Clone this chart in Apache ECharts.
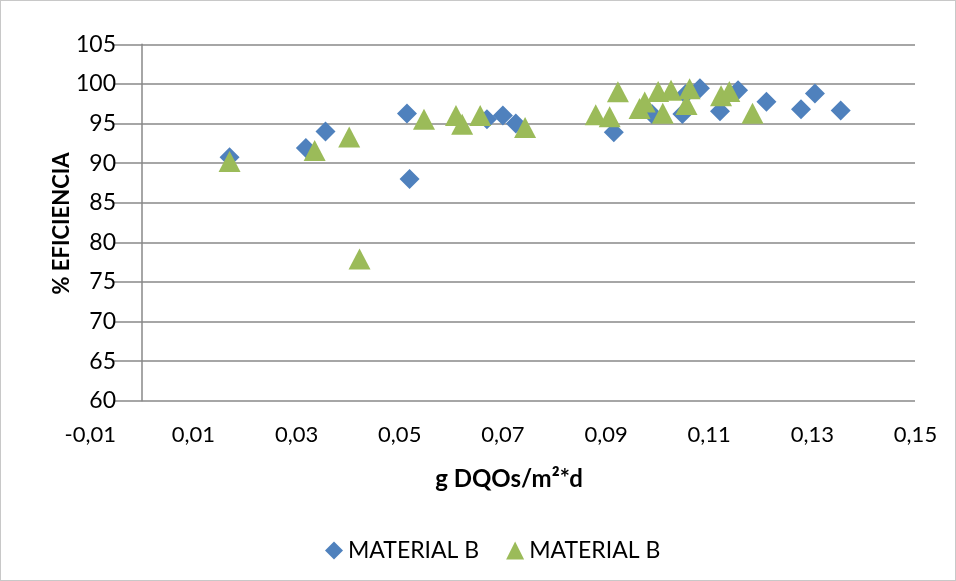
<!DOCTYPE html>
<html>
<head>
<meta charset="utf-8">
<script src="https://cdn.jsdelivr.net/npm/echarts@6/dist/echarts.min.js"></script>
<style>
  html, body { margin: 0; padding: 0; background: #fff; }
  #chart { width: 956px; height: 581px; box-sizing: border-box; border: 1px solid #c8c8c8; }
</style>
</head>
<body>
<div id="chart"></div>
<script>
// Series 1 (blue diamonds) – MATERIAL B
const xBlue = [0.0170, 0.0318, 0.0356, 0.0514, 0.0519, 0.0669, 0.0700, 0.0725, 0.0915, 0.0989,
               0.1048, 0.1054, 0.1082, 0.1121, 0.1156, 0.1211, 0.1278, 0.1305, 0.1355];
const yBlue = [90.75, 91.9, 94.0, 96.25, 88.0, 95.55, 96.0, 95.0, 93.9, 96.2,
               96.2, 98.7, 99.45, 96.55, 99.2, 97.75, 96.8, 98.8, 96.65];
// Series 2 (green triangles) – MATERIAL B
const xGreen = [0.0170, 0.0335, 0.0402, 0.0422, 0.0547, 0.0609, 0.0621, 0.0656, 0.0743, 0.0880,
                0.0907, 0.0923, 0.0965, 0.0975, 0.1001, 0.1010, 0.1026, 0.1062, 0.1056, 0.1123,
                0.1139, 0.1184];
const yGreen = [90.2, 91.6, 93.3, 77.9, 95.55, 96.0, 94.9, 96.0, 94.5, 96.1,
                95.85, 99.0, 96.9, 97.7, 99.05, 96.3, 99.2, 99.4, 97.4, 98.5,
                99.05, 96.3];
const seriesNames = ['MATERIAL B', 'MATERIAL B '];
const xTitle = 'g DQOs/m²*d';
const yTitle = '% EFICIENCIA';

const FONT = 'Lato, "Noto Sans", sans-serif';
const GRID_COLOR = '#888888';

function pairs(xs, ys) { return xs.map((x, i) => [x, ys[i]]); }

const chart = echarts.init(document.getElementById('chart'), null, { renderer: 'canvas' });
chart.setOption({
  animation: false,
  textStyle: { fontFamily: FONT },
  grid: [
    { left: 89.3, right: 39.5, top: 43.3, bottom: 179.3 },
    { left: 113, right: 40, top: 43.3, bottom: 179.3 }
  ],
  xAxis: [
    {
      type: 'value', gridIndex: 0, min: -0.01, max: 0.15, interval: 0.02,
      axisLine: { show: false }, axisTick: { show: false }, splitLine: { show: false },
      axisLabel: {
        color: '#000', fontSize: 22, fontFamily: FONT, margin: 23, lineHeight: 22,
        formatter: v => v.toFixed(2).replace('.', ',')
      }
    },
    { type: 'value', gridIndex: 1, min: 0, max: 1, show: false }
  ],
  yAxis: [
    {
      type: 'value', gridIndex: 0, min: 60, max: 105, interval: 5,
      axisLine: { show: true, onZero: true, lineStyle: { color: GRID_COLOR, width: 1.5 } },
      axisTick: { show: false }, axisLabel: { show: false }, splitLine: { show: false }
    },
    {
      type: 'value', gridIndex: 1, min: 60, max: 105, interval: 5,
      axisLine: { show: false }, axisTick: { show: false },
      splitLine: { show: true, lineStyle: { color: GRID_COLOR, width: 1.5 } },
      axisLabel: { color: '#000', fontSize: 23, fontFamily: FONT, margin: -2 }
    }
  ],
  legend: {
    left: 319, top: 533, itemGap: 27, itemWidth: 18, itemHeight: 18,
    textStyle: { color: '#000', fontSize: 23, fontFamily: FONT },
    formatter: n => n.trim(),
    data: [
      { name: seriesNames[0], icon: 'diamond' },
      { name: seriesNames[1], icon: 'triangle' }
    ]
  },
  graphic: [
    {
      type: 'text', x: 61, y: 222.5, rotation: Math.PI / 2,
      style: { text: yTitle, font: 'bold 22px ' + FONT, fill: '#000', align: 'center', verticalAlign: 'middle' }
    },
    {
      type: 'text', x: 508, y: 478,
      style: { text: xTitle, font: 'bold 24px ' + FONT, fill: '#000', align: 'center', verticalAlign: 'middle' }
    }
  ],
  series: [
    {
      name: seriesNames[0], type: 'scatter', xAxisIndex: 0, yAxisIndex: 0,
      symbol: 'diamond', symbolSize: [20, 20],
      itemStyle: { color: '#4F81BD', opacity: 1 },
      data: pairs(xBlue, yBlue)
    },
    {
      name: seriesNames[1], type: 'scatter', xAxisIndex: 0, yAxisIndex: 0,
      symbol: 'triangle', symbolSize: [22, 21],
      itemStyle: { color: '#9BBB59', opacity: 1 },
      data: pairs(xGreen, yGreen)
    }
  ]
});
</script>
</body>
</html>
